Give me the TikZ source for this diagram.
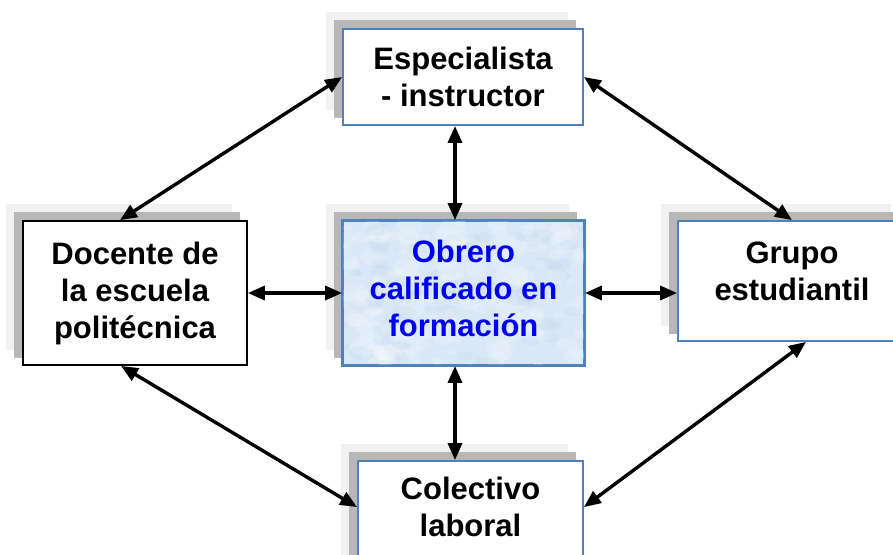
\documentclass[tikz,border=0pt]{standalone}
\usepackage{fontspec}
\setmainfont{Liberation Sans}
\usetikzlibrary{arrows.meta,backgrounds,calc}
\definecolor{boxblue}{HTML}{4F81BD}
\definecolor{shdark}{HTML}{B7B7B7}
\definecolor{shlight}{HTML}{F1F1F1}
\definecolor{obrfill}{HTML}{D9E7F6}
\definecolor{obrtext}{HTML}{0000F0}
\begin{document}
\begin{tikzpicture}[x=1pt,y=-1pt,
  boxnode/.style={draw=boxblue, line width=1.8pt, fill=white, inner sep=0pt, anchor=center},
  lbl/.style={font=\bfseries\fontsize{31}{37}\selectfont, align=center, inner sep=0pt, anchor=north},
  link/.style={line width=3.4pt, {Triangle[length=17pt,width=14pt]}-{Triangle[length=17pt,width=14pt]}}]
\useasboundingbox (0,0) rectangle (893,554);
% boxes
\node[boxnode, minimum width=240pt, minimum height=96pt] (esp) at (463,77) {};
\node[boxnode, fill=obrfill, minimum width=241pt, minimum height=144pt] (obr) at (463.5,293) {};
\node[boxnode, draw=black, minimum width=224pt, minimum height=144pt] (doc) at (135,293) {};
\node[boxnode, minimum width=228pt, minimum height=120pt] (gru) at (792,281) {};
\node[boxnode, minimum width=225pt, minimum height=110pt] (col) at (470.5,516) {};
% texture of the central box
\begin{scope}
  \clip (obr.south west) rectangle (obr.north east);
  \pgfmathsetseed{7}
  \foreach \i in {1,...,140}{
    \pgfmathsetmacro{\px}{343+241*rnd}
    \pgfmathsetmacro{\py}{221+144*rnd}
    \pgfmathsetmacro{\pr}{4+10*rnd}
    \fill[white, opacity=0.18] (\px,\py) ellipse ({\pr pt} and {0.7*\pr pt});
  }
  \foreach \i in {1,...,70}{
    \pgfmathsetmacro{\px}{343+241*rnd}
    \pgfmathsetmacro{\py}{221+144*rnd}
    \pgfmathsetmacro{\pr}{4+9*rnd}
    \fill[boxblue, opacity=0.035] (\px,\py) ellipse ({\pr pt} and {0.6*\pr pt});
  }
\end{scope}
\draw[boxblue, line width=1.8pt] (obr.south west) rectangle (obr.north east);
% texts
\node[lbl] (esp-t) at (463,47) {Especialista\\- instructor};
\node[lbl, text=obrtext] (obr-t) at (463.5,240) {Obrero\\calificado en\\formación};
\node[lbl] (doc-t) at (135,242) {Docente de\\la escuela\\politécnica};
\node[lbl] (gru-t) at (792,242) {Grupo\\estudiantil};
\node[lbl] (col-t) at (470.5,477) {Colectivo\\laboral};
% shadows
\begin{scope}[on background layer]
  \fill[white] (0,0) rectangle (893,554);
  \foreach \n in {esp,obr,doc,gru,col}{
    \fill[shlight] ([shift={(-16,-16)}]\n.south west) rectangle ([shift={(-16,-16)}]\n.north east);
    \fill[shdark] ([shift={(-8,-8)}]\n.south west) rectangle ([shift={(-8,-8)}]\n.north east);
  }
\end{scope}
% connectors
\coordinate (vx) at (455,0);
\draw[link] (esp.west) -- ([xshift=-15pt]doc.north);
\draw[link] (esp.east) -- (gru.north);
\draw[link] (esp.south -| vx) -- (obr.north -| vx);
\draw[link] (doc.east) -- (obr.west);
\draw[link] (obr.east) -- (obr.east -| gru.west);
\draw[link] (obr.south -| vx) -- (col.north -| vx);
\draw[link] ([xshift=-14pt]doc.south) -- ([yshift=-47pt]col.north west);
\draw[link] ([xshift=14pt]gru.south) -- ([yshift=-47pt]col.north east);
\end{tikzpicture}
\end{document}
